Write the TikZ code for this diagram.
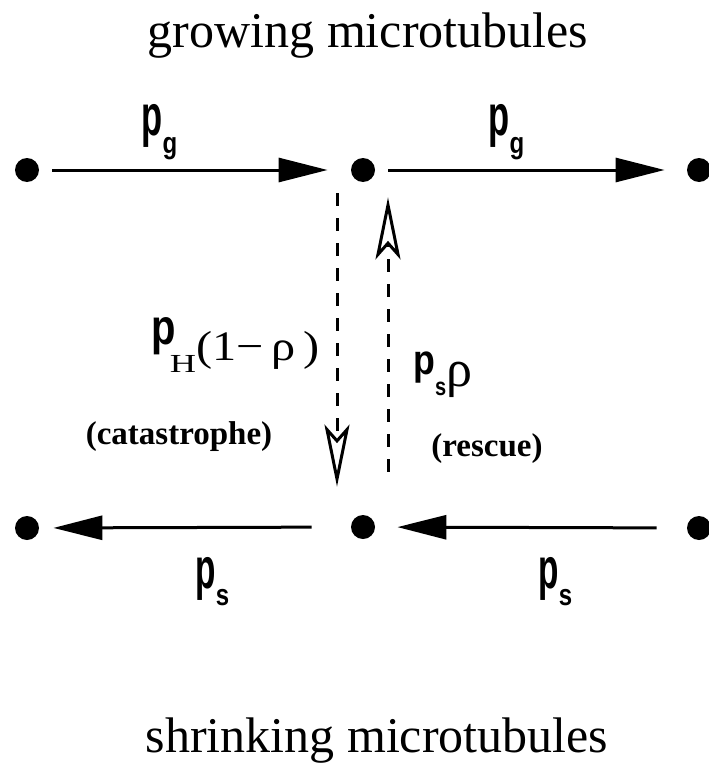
\documentclass[tikz,border=0pt]{standalone}
\usepackage{fontspec}
\setmainfont{Liberation Serif}
\setsansfont{Liberation Sans}
\usepackage{graphicx}
\usetikzlibrary{arrows.meta}
\newcommand{\plet}[2]{\scalebox{#2}[1]{\fontsize{#1}{#1}\selectfont\sffamily\bfseries p}}
\newcommand{\psub}[3]{\raisebox{-#1}{\fontsize{#2}{#2}\selectfont\sffamily\bfseries\scalebox{0.8}[1]{#3}}}

\begin{document}
\begin{tikzpicture}[x=0.5pt, y=-0.5pt,
  dot/.style={circle, fill, inner sep=0pt, minimum size=12pt},
  flow/.style={-{Triangle[length=24.5pt, width=12pt]}, line width=1.5pt},
  trans/.style={-{Stealth[open, length=31pt, width=12.5pt, inset=7pt]}, line width=1.5pt, dash pattern=on 6.5pt off 6pt},
  lbl/.style={inner sep=0pt, anchor=base west},
  note/.style={inner sep=0pt, anchor=base, font=\fontsize{16.5}{16.5}\selectfont\bfseries},
  title/.style={inner sep=0pt, anchor=base, font=\fontsize{25}{25}\selectfont}]
\useasboundingbox (0,0) rectangle (708,765);
\node[title] (tg) at (368,48) {growing microtubules};
\node[title] (ts) at (377,752) {shrinking microtubules};
\node[dot] (g1) at (27,170) {};
\node[dot] (g2) at (363,170) {};
\node[dot] (g3) at (699,170) {};
\node[dot] (s1) at (27,528) {};
\node[dot] (s2) at (363,527) {};
\node[dot] (s3) at (699,528) {};
\draw[flow, shorten <=6.5pt, shorten >=11.5pt] (g1) -- (g2);
\draw[flow, shorten <=6.5pt, shorten >=11pt] (g2) -- (g3);
\draw[flow, shorten <=19.5pt, shorten >=7pt] (s2) -- (s1);
\draw[flow, shorten <=15pt, shorten >=11pt] (s3) -- (s2);
\draw[trans, shorten <=5.5pt, shorten >=14pt] ([xshift=-13pt]g2.south) -- ([xshift=-13pt]s2.north);
\draw[trans, shorten <=21.5pt, shorten >=7.5pt] ([xshift=12.5pt]s2.north) -- ([xshift=12.5pt]g2.south);
\node[lbl] (pg1) at (141,135) {\plet{28.8}{0.6}\psub{9pt}{15}{g}};
\node[lbl] (pg2) at (488,135) {\plet{28.8}{0.6}\psub{9pt}{15}{g}};
\node[lbl] (ps1) at (195,588) {\plet{28.8}{0.58}\psub{8.5pt}{15}{s}};
\node[lbl] (ps2) at (538,588) {\plet{28.8}{0.58}\psub{8.5pt}{15}{s}};
\node[lbl] (cat) at (151,344) {\plet{25}{0.8}\kern-3pt\raisebox{-14pt}{\fontsize{13}{13}\selectfont\rmfamily\scalebox{1.4}[1]{H}}\raisebox{-8pt}{\fontsize{21}{21}\selectfont\rmfamily\scalebox{1.15}[1]{(1−\,ρ\,)}}};
\node[lbl] (res) at (413,374) {\plet{21}{0.85}\psub{10.5pt}{12.5}{s}\raisebox{-6pt}{\fontsize{26}{26}\selectfont\rmfamily ρ}};
\node[note] (catnote) at (179,444) {(catastrophe)};
\node[note] (resnote) at (487,456) {(rescue)};
\end{tikzpicture}
\end{document}
